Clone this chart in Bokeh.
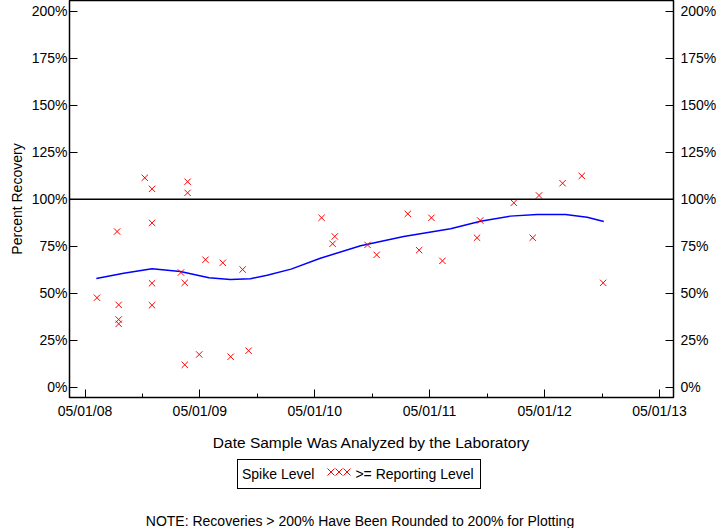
from datetime import datetime, timedelta

from bokeh.plotting import figure
from bokeh.models import (LinearAxis, FixedTicker, DatetimeTickFormatter,
                          PrintfTickFormatter, Span, Range1d, Div, ColumnDataSource)
from bokeh.layouts import column
from bokeh.embed import file_html
from bokeh.resources import INLINE

# ---------------- data ----------------
sample_dates = [
    "2008-06-08", "2008-08-11", "2008-08-16", "2008-08-16", "2008-08-16",
    "2008-11-07", "2008-11-30", "2008-11-30", "2008-11-30", "2008-11-30",
    "2009-03-02", "2009-03-14", "2009-03-14", "2009-03-23", "2009-03-23",
    "2009-04-29", "2009-05-19", "2009-07-13", "2009-08-07", "2009-09-14",
    "2009-10-03", "2010-05-23", "2010-06-27", "2010-07-04", "2010-10-16",
    "2010-11-14", "2011-02-21", "2011-03-29", "2011-05-07", "2011-06-11",
    "2011-09-29", "2011-10-09", "2012-01-24", "2012-03-24", "2012-04-13",
    "2012-06-27", "2012-08-27", "2012-11-03",
]
recovery = [
    47.6, 82.8, 43.8, 36.0, 33.7,
    111.4, 105.5, 87.4, 55.3, 43.6,
    61.0, 55.5, 11.9, 109.3, 103.4,
    17.4, 67.8, 66.2, 16.2, 62.6,
    19.4, 90.1, 76.3, 80.2, 75.7,
    70.4, 92.2, 72.9, 90.1, 67.2,
    79.5, 88.7, 98.1, 79.5, 102.0,
    108.5, 112.4, 55.5,
]
trend_dates = [
    "2008-06-06", "2008-09-01", "2008-11-30", "2009-02-28", "2009-05-30",
    "2009-08-06", "2009-10-09", "2009-12-01", "2010-02-15", "2010-05-19",
    "2010-09-24", "2011-02-08", "2011-07-07", "2011-10-10", "2012-01-13",
    "2012-04-07", "2012-07-06", "2012-09-13", "2012-11-05",
]
trend_values = [
    57.8, 60.6, 63.0, 61.5, 58.2,
    57.3, 57.7, 59.6, 62.8, 68.6,
    75.2, 80.2, 84.3, 88.3, 91.0,
    91.9, 91.9, 90.4, 88.1,
]
x_tick_dates = ["2008-05-01", "2009-05-01", "2010-05-01", "2011-05-01",
                "2012-05-01", "2013-05-01"]
x_tick_labels = ["05/01/08", "05/01/09", "05/01/10", "05/01/11",
                 "05/01/12", "05/01/13"]
x_minor_dates = ["2007-11-01", "2008-11-01", "2009-11-01", "2010-11-01",
                 "2011-11-01", "2012-11-01", "2013-11-01"]
y_ticks = [0, 25, 50, 75, 100, 125, 150, 175, 200]
reference_level = 100

FONT = "Liberation Sans"
EPOCH = datetime(1970, 1, 1)


def to_dt(s):
    return datetime.strptime(s, "%Y-%m-%d")


def to_ms(s):
    return (to_dt(s) - EPOCH).total_seconds() * 1000.0


pts = ColumnDataSource(dict(x=[to_dt(s) for s in sample_dates], y=recovery))
trend = ColumnDataSource(dict(x=[to_dt(s) for s in trend_dates], y=trend_values))

x_start = to_dt("2008-05-01") - timedelta(days=49.3)
x_end = to_dt("2013-05-01") + timedelta(days=44.5)

p = figure(width=720, height=456, x_axis_type="datetime",
           output_backend="svg", toolbar_location=None,
           x_range=Range1d(x_start, x_end), y_range=Range1d(-5.48, 205.7),
           min_border_left=69, min_border_right=47, min_border_top=0,
           min_border_bottom=59)
p.background_fill_color = "white"
p.border_fill_color = "white"
p.outline_line_color = "black"
p.outline_line_width = 1.5
p.xgrid.visible = False
p.ygrid.visible = False

# x axis
xa = p.xaxis[0]
xa.ticker = FixedTicker(ticks=[to_ms(s) for s in x_tick_dates],
                        minor_ticks=[to_ms(s) for s in x_minor_dates])
fmt = "%m/%d/%y"
xa.formatter = DatetimeTickFormatter(years=fmt, months=fmt, days=fmt, hours=fmt,
                                     hourmin=fmt, minutes=fmt, minsec=fmt,
                                     seconds=fmt, milliseconds=fmt,
                                     microseconds=fmt)
xa.major_label_overrides = {to_ms(d): lab for d, lab in zip(x_tick_dates, x_tick_labels)}
xa.major_tick_in = 8
xa.major_tick_out = 0
xa.minor_tick_in = 4
xa.minor_tick_out = 0
xa.axis_line_color = "black"
xa.major_tick_line_color = "black"
xa.minor_tick_line_color = "black"
xa.major_label_text_font = FONT
xa.major_label_text_font_size = "14px"
xa.major_label_text_color = "black"
xa.major_label_standoff = 5
xa.axis_label = "Date Sample Was Analyzed by the Laboratory"
xa.axis_label_text_font = FONT
xa.axis_label_text_font_size = "15.5px"
xa.axis_label_text_font_style = "normal"
xa.axis_label_text_color = "black"
xa.axis_label_standoff = 12


def style_y(ax, standoff):
    ax.ticker = FixedTicker(ticks=y_ticks)
    ax.formatter = PrintfTickFormatter(format="%d%%")
    ax.major_tick_in = 8
    ax.major_tick_out = 0
    ax.minor_tick_line_color = None
    ax.axis_line_color = "black"
    ax.major_tick_line_color = "black"
    ax.major_label_text_font = FONT
    ax.major_label_text_font_size = "14px"
    ax.major_label_text_color = "black"
    ax.major_label_standoff = standoff


ya = p.yaxis[0]
style_y(ya, 2)
ya.axis_label = "Percent Recovery"
ya.axis_label_text_font = FONT
ya.axis_label_text_font_size = "14px"
ya.axis_label_text_font_style = "normal"
ya.axis_label_text_color = "black"
ya.axis_label_standoff = 4

yr = LinearAxis()
style_y(yr, 7)
p.add_layout(yr, "right")

# reference line at 100%
p.add_layout(Span(location=reference_level, dimension="width",
                  line_color="black", line_width=1.5))

# trend line and sample points
p.line("x", "y", source=trend, line_color="#0000FF", line_width=1.5)
p.scatter("x", "y", source=pts, marker="x", size=9, line_color="#FF0000",
          line_width=1)

# legend and note
legend_html = (
    '<div style="margin:3px 0 0 237px; width:244px; height:30px; '
    'box-sizing:border-box; border:1px solid #000; background:#fff; '
    "font-family:'Liberation Sans', Arial, sans-serif; font-size:14px; color:#000; "
    'display:flex; align-items:center; padding-left:4px; white-space:nowrap;">'
    '<span>Spike Level</span>'
    '<svg width="24" height="10" style="margin-left:13px; position:relative; top:-2px">'
    '<g stroke="#FF0000" stroke-width="1">'
    '<line x1="0.5" y1="1.5" x2="7.5" y2="8.5"/><line x1="0.5" y1="8.5" x2="7.5" y2="1.5"/>'
    '<line x1="8.5" y1="1.5" x2="15.5" y2="8.5"/><line x1="8.5" y1="8.5" x2="15.5" y2="1.5"/>'
    '<line x1="16.5" y1="1.5" x2="23.5" y2="8.5"/><line x1="16.5" y1="8.5" x2="23.5" y2="1.5"/>'
    '</g></svg>'
    '<span style="margin-left:4px">&gt;= Reporting Level</span></div>'
)
legend_div = Div(text=legend_html, width=720, height=36, margin=(0, 0, 0, 0))

note_html = (
    '<div style="width:720px; text-align:center; padding-top:19px; '
    "font-family:'Liberation Sans', Arial, sans-serif; font-size:14px; color:#000; "
    'white-space:nowrap;">NOTE: Recoveries &gt; 200% Have Been Rounded to 200% for Plotting</div>'
)
note_div = Div(text=note_html, width=720, height=36, margin=(0, 0, 0, 0))

layout = column(p, legend_div, note_div, spacing=0)

open("out.html", "w").write(file_html(layout, INLINE))
